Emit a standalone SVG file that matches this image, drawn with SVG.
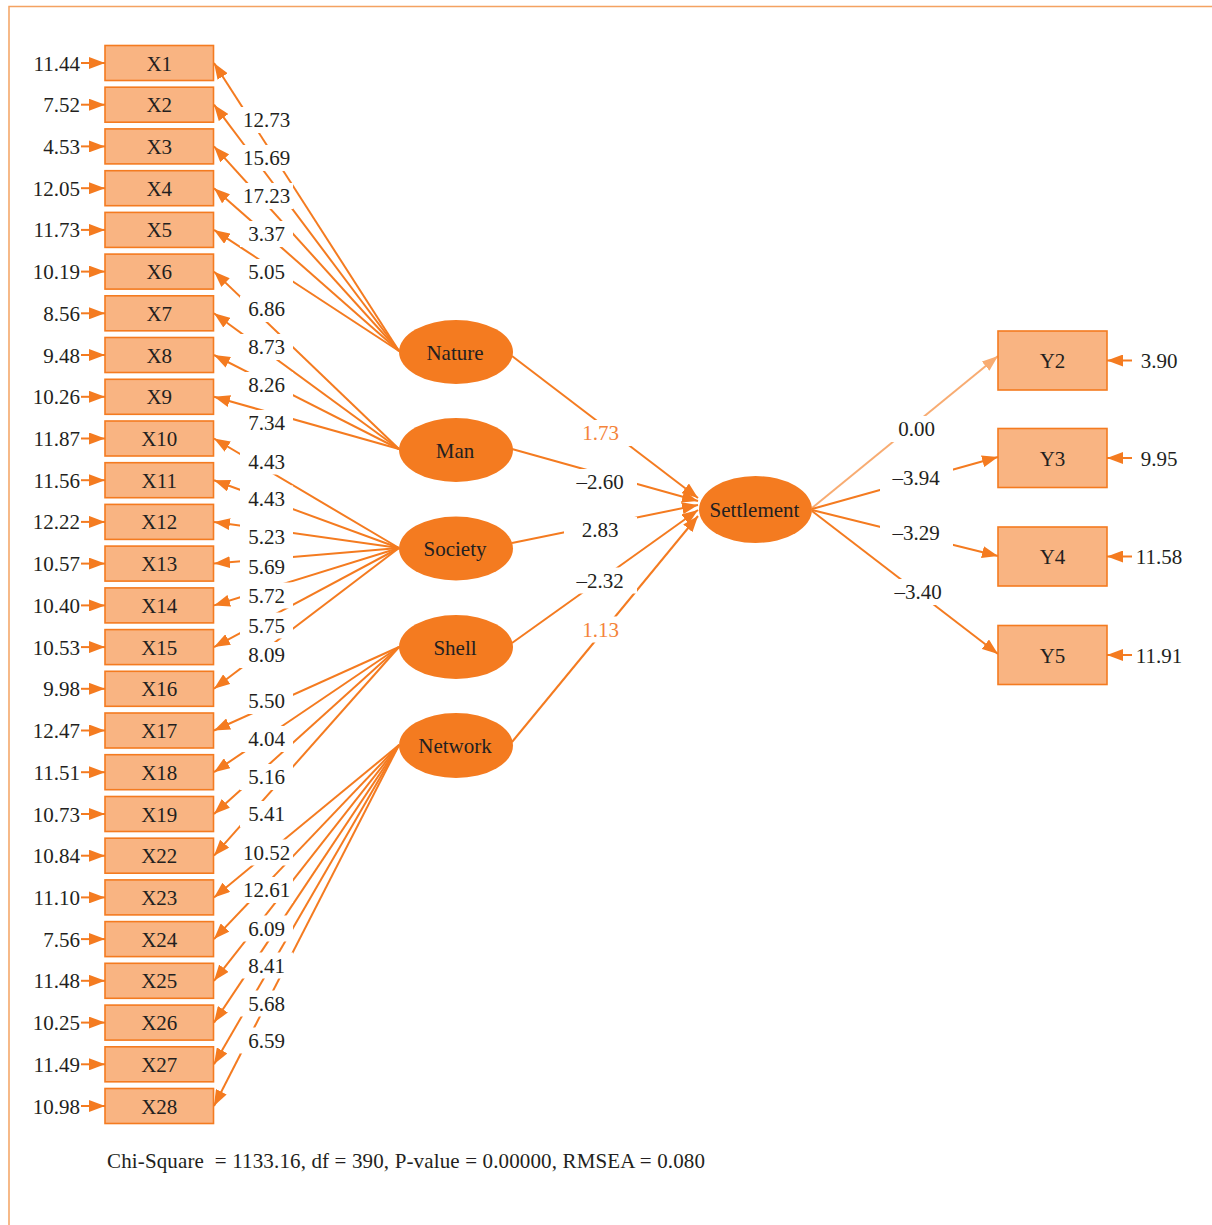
<svg xmlns="http://www.w3.org/2000/svg" width="1212" height="1225" viewBox="0 0 1212 1225">
  <style>
    .box { fill: #F9B482; stroke: #F47B20; stroke-width: 1.6; }
    .lat { fill: #F47B20; }
    .t { font-family: "Liberation Serif", "Times New Roman", serif; font-size: 21px; fill: #231F20; }
    .c { text-anchor: middle; }
    .e { text-anchor: end; }
    .hl { fill: #F4843A; }
    .ln { stroke: #F47B20; stroke-width: 2; fill: none; marker-end: url(#arr); }
    .lt { stroke: #F8AC72; stroke-width: 2; fill: none; marker-end: url(#arrLight); }
    .ko { fill: #FFFFFF; }
  </style>
  <defs>
    <marker id="arr" markerUnits="userSpaceOnUse" markerWidth="16" markerHeight="12" refX="16" refY="6" orient="auto">
      <path d="M0,0 L16,6 L0,12 Z" fill="#F47B20"/>
    </marker>
    <marker id="arrLight" markerUnits="userSpaceOnUse" markerWidth="16" markerHeight="12" refX="16" refY="6" orient="auto">
      <path d="M0,0 L16,6 L0,12 Z" fill="#F8AC72"/>
    </marker>
  </defs>

  <rect width="1212" height="1225" fill="#FFFFFF"/>
  <!-- frame: top and left edges only -->
  <path d="M9,1225 V6.5 H1212" fill="none" stroke="#F4A262" stroke-width="1.5"/>

  <g id="connectors">
    <!-- error terms of the observed indicators -->
    <g id="errors-x">
      <line class="ln" x1="81" y1="63" x2="105" y2="63"/>
      <line class="ln" x1="81" y1="104.7" x2="105" y2="104.7"/>
      <line class="ln" x1="81" y1="146.4" x2="105" y2="146.4"/>
      <line class="ln" x1="81" y1="188.2" x2="105" y2="188.2"/>
      <line class="ln" x1="81" y1="229.9" x2="105" y2="229.9"/>
      <line class="ln" x1="81" y1="271.6" x2="105" y2="271.6"/>
      <line class="ln" x1="81" y1="313.3" x2="105" y2="313.3"/>
      <line class="ln" x1="81" y1="355" x2="105" y2="355"/>
      <line class="ln" x1="81" y1="396.8" x2="105" y2="396.8"/>
      <line class="ln" x1="81" y1="438.5" x2="105" y2="438.5"/>
      <line class="ln" x1="81" y1="480.2" x2="105" y2="480.2"/>
      <line class="ln" x1="81" y1="521.9" x2="105" y2="521.9"/>
      <line class="ln" x1="81" y1="563.6" x2="105" y2="563.6"/>
      <line class="ln" x1="81" y1="605.4" x2="105" y2="605.4"/>
      <line class="ln" x1="81" y1="647.1" x2="105" y2="647.1"/>
      <line class="ln" x1="81" y1="688.8" x2="105" y2="688.8"/>
      <line class="ln" x1="81" y1="730.5" x2="105" y2="730.5"/>
      <line class="ln" x1="81" y1="772.2" x2="105" y2="772.2"/>
      <line class="ln" x1="81" y1="814" x2="105" y2="814"/>
      <line class="ln" x1="81" y1="855.7" x2="105" y2="855.7"/>
      <line class="ln" x1="81" y1="897.4" x2="105" y2="897.4"/>
      <line class="ln" x1="81" y1="939.1" x2="105" y2="939.1"/>
      <line class="ln" x1="81" y1="980.8" x2="105" y2="980.8"/>
      <line class="ln" x1="81" y1="1022.6" x2="105" y2="1022.6"/>
      <line class="ln" x1="81" y1="1064.3" x2="105" y2="1064.3"/>
      <line class="ln" x1="81" y1="1106" x2="105" y2="1106"/>
    </g>
    <!-- loadings: latent factors to indicators -->
    <g id="loadings">
      <line class="ln" x1="399" y1="351" x2="214" y2="63"/>
      <line class="ln" x1="399" y1="351" x2="214" y2="104.7"/>
      <line class="ln" x1="399" y1="351" x2="214" y2="146.4"/>
      <line class="ln" x1="399" y1="351" x2="214" y2="188.2"/>
      <line class="ln" x1="399" y1="351" x2="214" y2="229.9"/>
      <line class="ln" x1="399" y1="449" x2="214" y2="271.6"/>
      <line class="ln" x1="399" y1="449" x2="214" y2="313.3"/>
      <line class="ln" x1="399" y1="449" x2="214" y2="355"/>
      <line class="ln" x1="399" y1="449" x2="214" y2="396.8"/>
      <line class="ln" x1="399" y1="548" x2="214" y2="438.5"/>
      <line class="ln" x1="399" y1="548" x2="214" y2="480.2"/>
      <line class="ln" x1="399" y1="548" x2="214" y2="521.9"/>
      <line class="ln" x1="399" y1="548" x2="214" y2="563.6"/>
      <line class="ln" x1="399" y1="548" x2="214" y2="605.4"/>
      <line class="ln" x1="399" y1="548" x2="214" y2="647.1"/>
      <line class="ln" x1="399" y1="548" x2="214" y2="688.8"/>
      <line class="ln" x1="399" y1="647" x2="214" y2="730.5"/>
      <line class="ln" x1="399" y1="647" x2="214" y2="772.2"/>
      <line class="ln" x1="399" y1="647" x2="214" y2="814"/>
      <line class="ln" x1="399" y1="647" x2="214" y2="855.7"/>
      <line class="ln" x1="399" y1="745" x2="214" y2="897.4"/>
      <line class="ln" x1="399" y1="745" x2="214" y2="939.1"/>
      <line class="ln" x1="399" y1="745" x2="214" y2="980.8"/>
      <line class="ln" x1="399" y1="745" x2="214" y2="1022.6"/>
      <line class="ln" x1="399" y1="745" x2="214" y2="1064.3"/>
      <line class="ln" x1="399" y1="745" x2="214" y2="1106"/>
    </g>
    <!-- structural paths into Settlement -->
    <g id="paths-in">
      <line class="ln" x1="512" y1="356" x2="698" y2="498"/>
      <line class="ln" x1="512" y1="449" x2="698" y2="501"/>
      <line class="ln" x1="512" y1="543" x2="698" y2="505"/>
      <line class="ln" x1="512" y1="643" x2="698" y2="510"/>
      <line class="ln" x1="512" y1="742" x2="698" y2="516"/>
    </g>
    <!-- Settlement to its indicators -->
    <g id="paths-out">
      <line class="lt" x1="812" y1="508" x2="998" y2="356"/>
      <line class="ln" x1="812" y1="509" x2="998" y2="457"/>
      <line class="ln" x1="812" y1="510" x2="998" y2="556"/>
      <line class="ln" x1="812" y1="511" x2="998" y2="654"/>
    </g>
    <!-- error terms of the Y indicators -->
    <g id="errors-y">
      <line class="ln" x1="1132" y1="360.5" x2="1107" y2="360.5"/>
      <line class="ln" x1="1132" y1="458" x2="1107" y2="458"/>
      <line class="ln" x1="1132" y1="556.5" x2="1107" y2="556.5"/>
      <line class="ln" x1="1132" y1="655" x2="1107" y2="655"/>
    </g>
  </g>

  <!-- path coefficients, each on a white plate that interrupts the lines beneath -->
  <g id="coefficients" class="t c">
    <g class="ko">
      <rect x="240" y="107" width="53" height="26"/>
      <rect x="240" y="145" width="53" height="26"/>
      <rect x="240" y="183" width="53" height="26"/>
      <rect x="240" y="221" width="53" height="26"/>
      <rect x="240" y="259" width="53" height="26"/>
      <rect x="240" y="296" width="53" height="26"/>
      <rect x="240" y="334" width="53" height="26"/>
      <rect x="240" y="372" width="53" height="26"/>
      <rect x="240" y="410" width="53" height="26"/>
      <rect x="240" y="448.5" width="53" height="26"/>
      <rect x="240" y="485.5" width="53" height="26"/>
      <rect x="240" y="523.5" width="53" height="26"/>
      <rect x="240" y="554" width="53" height="26"/>
      <rect x="240" y="582.5" width="53" height="26"/>
      <rect x="240" y="612.5" width="53" height="26"/>
      <rect x="240" y="642" width="53" height="26"/>
      <rect x="240" y="688" width="53" height="26"/>
      <rect x="240" y="726" width="53" height="26"/>
      <rect x="240" y="764" width="53" height="26"/>
      <rect x="240" y="801" width="53" height="26"/>
      <rect x="240" y="839.5" width="53" height="26"/>
      <rect x="240" y="877" width="53" height="26"/>
      <rect x="240" y="915.5" width="53" height="26"/>
      <rect x="240" y="952.5" width="53" height="26"/>
      <rect x="240" y="990.5" width="53" height="26"/>
      <rect x="240" y="1027.5" width="53" height="26"/>
      <rect x="564" y="420" width="73" height="26"/>
      <rect x="564" y="469" width="73" height="26"/>
      <rect x="564" y="517" width="73" height="26"/>
      <rect x="564" y="567.5" width="73" height="26"/>
      <rect x="564" y="616.5" width="73" height="26"/>
      <rect x="880" y="416" width="73" height="26"/>
      <rect x="880" y="465" width="73" height="26"/>
      <rect x="880" y="520" width="73" height="26"/>
      <rect x="880" y="579" width="73" height="26"/>
    </g>
    <text x="266.5" y="127">12.73</text>
    <text x="266.5" y="165">15.69</text>
    <text x="266.5" y="203">17.23</text>
    <text x="266.5" y="241">3.37</text>
    <text x="266.5" y="279">5.05</text>
    <text x="266.5" y="316">6.86</text>
    <text x="266.5" y="354">8.73</text>
    <text x="266.5" y="392">8.26</text>
    <text x="266.5" y="430">7.34</text>
    <text x="266.5" y="468.5">4.43</text>
    <text x="266.5" y="505.5">4.43</text>
    <text x="266.5" y="543.5">5.23</text>
    <text x="266.5" y="574">5.69</text>
    <text x="266.5" y="602.5">5.72</text>
    <text x="266.5" y="632.5">5.75</text>
    <text x="266.5" y="662">8.09</text>
    <text x="266.5" y="708">5.50</text>
    <text x="266.5" y="746">4.04</text>
    <text x="266.5" y="784">5.16</text>
    <text x="266.5" y="821">5.41</text>
    <text x="266.5" y="859.5">10.52</text>
    <text x="266.5" y="897">12.61</text>
    <text x="266.5" y="935.5">6.09</text>
    <text x="266.5" y="972.5">8.41</text>
    <text x="266.5" y="1010.5">5.68</text>
    <text x="266.5" y="1047.5">6.59</text>

    <text class="hl" x="600.5" y="440">1.73</text>
    <text x="600" y="489">–2.60</text>
    <text x="600" y="537">2.83</text>
    <text x="600" y="587.5">–2.32</text>
    <text class="hl" x="600.5" y="636.5">1.13</text>

    <text x="916.5" y="436">0.00</text>
    <text x="916" y="485">–3.94</text>
    <text x="916" y="540">–3.29</text>
    <text x="918" y="599">–3.40</text>
  </g>

  <!-- error variances -->
  <g id="error-values" class="t">
    <g class="e">
      <text x="80" y="70.5">11.44</text>
      <text x="80" y="112.2">7.52</text>
      <text x="80" y="153.9">4.53</text>
      <text x="80" y="195.7">12.05</text>
      <text x="80" y="237.4">11.73</text>
      <text x="80" y="279.1">10.19</text>
      <text x="80" y="320.8">8.56</text>
      <text x="80" y="362.5">9.48</text>
      <text x="80" y="404.3">10.26</text>
      <text x="80" y="446">11.87</text>
      <text x="80" y="487.7">11.56</text>
      <text x="80" y="529.4">12.22</text>
      <text x="80" y="571.1">10.57</text>
      <text x="80" y="612.9">10.40</text>
      <text x="80" y="654.6">10.53</text>
      <text x="80" y="696.3">9.98</text>
      <text x="80" y="738">12.47</text>
      <text x="80" y="779.7">11.51</text>
      <text x="80" y="821.5">10.73</text>
      <text x="80" y="863.2">10.84</text>
      <text x="80" y="904.9">11.10</text>
      <text x="80" y="946.6">7.56</text>
      <text x="80" y="988.3">11.48</text>
      <text x="80" y="1030.1">10.25</text>
      <text x="80" y="1071.8">11.49</text>
      <text x="80" y="1113.5">10.98</text>
    </g>
    <g class="c">
      <text x="1159" y="368">3.90</text>
      <text x="1159" y="465.5">9.95</text>
      <text x="1159" y="564">11.58</text>
      <text x="1159" y="662.5">11.91</text>
    </g>
  </g>

  <!-- observed indicators X -->
  <g id="X1"><rect class="box" x="105" y="45.5" width="108.5" height="35"/><text class="t c" x="159.3" y="70.5">X1</text></g>
  <g id="X2"><rect class="box" x="105" y="87.2" width="108.5" height="35"/><text class="t c" x="159.3" y="112.2">X2</text></g>
  <g id="X3"><rect class="box" x="105" y="128.9" width="108.5" height="35"/><text class="t c" x="159.3" y="153.9">X3</text></g>
  <g id="X4"><rect class="box" x="105" y="170.7" width="108.5" height="35"/><text class="t c" x="159.3" y="195.7">X4</text></g>
  <g id="X5"><rect class="box" x="105" y="212.4" width="108.5" height="35"/><text class="t c" x="159.3" y="237.4">X5</text></g>
  <g id="X6"><rect class="box" x="105" y="254.1" width="108.5" height="35"/><text class="t c" x="159.3" y="279.1">X6</text></g>
  <g id="X7"><rect class="box" x="105" y="295.8" width="108.5" height="35"/><text class="t c" x="159.3" y="320.8">X7</text></g>
  <g id="X8"><rect class="box" x="105" y="337.5" width="108.5" height="35"/><text class="t c" x="159.3" y="362.5">X8</text></g>
  <g id="X9"><rect class="box" x="105" y="379.3" width="108.5" height="35"/><text class="t c" x="159.3" y="404.3">X9</text></g>
  <g id="X10"><rect class="box" x="105" y="421" width="108.5" height="35"/><text class="t c" x="159.3" y="446">X10</text></g>
  <g id="X11"><rect class="box" x="105" y="462.7" width="108.5" height="35"/><text class="t c" x="159.3" y="487.7">X11</text></g>
  <g id="X12"><rect class="box" x="105" y="504.4" width="108.5" height="35"/><text class="t c" x="159.3" y="529.4">X12</text></g>
  <g id="X13"><rect class="box" x="105" y="546.1" width="108.5" height="35"/><text class="t c" x="159.3" y="571.1">X13</text></g>
  <g id="X14"><rect class="box" x="105" y="587.9" width="108.5" height="35"/><text class="t c" x="159.3" y="612.9">X14</text></g>
  <g id="X15"><rect class="box" x="105" y="629.6" width="108.5" height="35"/><text class="t c" x="159.3" y="654.6">X15</text></g>
  <g id="X16"><rect class="box" x="105" y="671.3" width="108.5" height="35"/><text class="t c" x="159.3" y="696.3">X16</text></g>
  <g id="X17"><rect class="box" x="105" y="713" width="108.5" height="35"/><text class="t c" x="159.3" y="738">X17</text></g>
  <g id="X18"><rect class="box" x="105" y="754.7" width="108.5" height="35"/><text class="t c" x="159.3" y="779.7">X18</text></g>
  <g id="X19"><rect class="box" x="105" y="796.5" width="108.5" height="35"/><text class="t c" x="159.3" y="821.5">X19</text></g>
  <g id="X22"><rect class="box" x="105" y="838.2" width="108.5" height="35"/><text class="t c" x="159.3" y="863.2">X22</text></g>
  <g id="X23"><rect class="box" x="105" y="879.9" width="108.5" height="35"/><text class="t c" x="159.3" y="904.9">X23</text></g>
  <g id="X24"><rect class="box" x="105" y="921.6" width="108.5" height="35"/><text class="t c" x="159.3" y="946.6">X24</text></g>
  <g id="X25"><rect class="box" x="105" y="963.3" width="108.5" height="35"/><text class="t c" x="159.3" y="988.3">X25</text></g>
  <g id="X26"><rect class="box" x="105" y="1005.1" width="108.5" height="35"/><text class="t c" x="159.3" y="1030.1">X26</text></g>
  <g id="X27"><rect class="box" x="105" y="1046.8" width="108.5" height="35"/><text class="t c" x="159.3" y="1071.8">X27</text></g>
  <g id="X28"><rect class="box" x="105" y="1088.5" width="108.5" height="35"/><text class="t c" x="159.3" y="1113.5">X28</text></g>

  <!-- latent factors -->
  <g id="Nature"><ellipse class="lat" cx="456" cy="352" rx="57" ry="32"/><text class="t c" x="455" y="359.5">Nature</text></g>
  <g id="Man"><ellipse class="lat" cx="456" cy="450" rx="57" ry="32"/><text class="t c" x="455" y="457.5">Man</text></g>
  <g id="Society"><ellipse class="lat" cx="456" cy="548.5" rx="57" ry="32"/><text class="t c" x="455" y="556">Society</text></g>
  <g id="Shell"><ellipse class="lat" cx="456" cy="647" rx="57" ry="32"/><text class="t c" x="455" y="654.5">Shell</text></g>
  <g id="Network"><ellipse class="lat" cx="456" cy="745.5" rx="57" ry="32.5"/><text class="t c" x="455" y="753">Network</text></g>
  <g id="Settlement"><ellipse class="lat" cx="755.5" cy="509.5" rx="56.5" ry="33.5"/><text class="t c" x="754.5" y="517">Settlement</text></g>

  <!-- Settlement indicators -->
  <g id="Y2"><rect class="box" x="998" y="331" width="109" height="59"/><text class="t c" x="1052.5" y="368">Y2</text></g>
  <g id="Y3"><rect class="box" x="998" y="428.5" width="109" height="59"/><text class="t c" x="1052.5" y="465.5">Y3</text></g>
  <g id="Y4"><rect class="box" x="998" y="527" width="109" height="59"/><text class="t c" x="1052.5" y="564">Y4</text></g>
  <g id="Y5"><rect class="box" x="998" y="625.5" width="109" height="59"/><text class="t c" x="1052.5" y="662.5">Y5</text></g>

  <!-- fit statistics -->
  <text class="t" x="107" y="1168" xml:space="preserve" textLength="598" lengthAdjust="spacing">Chi-Square  = 1133.16, df = 390, P-value = 0.00000, RMSEA = 0.080</text>
</svg>
